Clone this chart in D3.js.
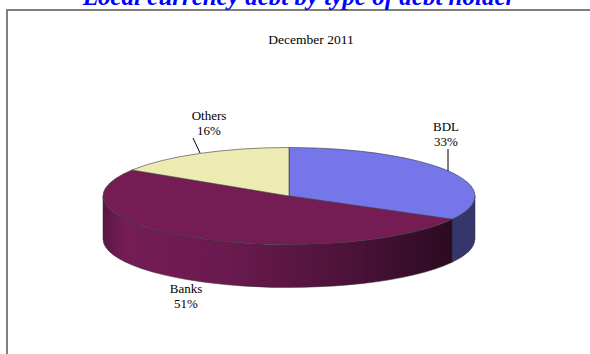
<!DOCTYPE html>
<html><head><meta charset="utf-8">
<script src="https://cdn.jsdelivr.net/npm/d3@7"></script>
<style>html,body{margin:0;padding:0;background:#fff;}svg{display:block;}</style>
</head><body>
<svg id="chart" width="590" height="354"></svg>
<script>
const categories = ["BDL", "Banks", "Others"];
const values = [33, 51, 16];
const topColors = ["#7476e9", "#761c55", "#eeebb2"];
const sideColors = ["#36366c", "url(#banksSide)", "#bdbb8a"];
const titleText = "Local currency debt by type of debt holder";
const subtitleText = "December 2011";

const svg = d3.select("#chart");
const defs = svg.append("defs");

const cx = 289, cy = 196, rx = 186, ry = 48.5, depth = 43;

const g1 = defs.append("linearGradient").attr("id", "banksSide")
  .attr("gradientUnits", "userSpaceOnUse").attr("x1", cx - rx).attr("x2", cx + rx * 0.9).attr("y1", 0).attr("y2", 0);
[[0, "#5a1543"], [0.06, "#741d55"], [0.35, "#6a1a4f"], [0.7, "#4c1239"], [1, "#2a0a20"]]
  .forEach(([o, c]) => g1.append("stop").attr("offset", o).attr("stop-color", c));

// frame
svg.append("rect").attr("x", 7).attr("y", 10).attr("width", 700).attr("height", 500)
  .attr("fill", "none").attr("stroke", "#7f7f7f").attr("stroke-width", 2);

svg.append("text").attr("x", 299).attr("y", 5).attr("text-anchor", "middle")
  .attr("font-family", "Liberation Serif").attr("font-size", 25).attr("font-weight", "bold")
  .attr("font-style", "italic").attr("fill", "#0000ff").text(titleText);

svg.append("text").attr("x", 311).attr("y", 44).attr("text-anchor", "middle")
  .attr("font-family", "Liberation Serif").attr("font-size", 13.5).attr("fill", "#000").text(subtitleText);

const pie = d3.pie().sort(null).value(d => d)
  .startAngle(0).endAngle(2 * Math.PI);
const arcs = pie(values);

const px = a => cx + rx * Math.sin(a);
const py = a => cy - ry * Math.cos(a);

// sides (front-facing portion between PI/2 and 3PI/2)
const sideG = svg.append("g");
arcs.forEach((d, i) => {
  const a0 = Math.max(d.startAngle, Math.PI / 2);
  const a1 = Math.min(d.endAngle, 3 * Math.PI / 2);
  if (a1 <= a0) return;
  const large = (a1 - a0) > Math.PI ? 1 : 0;
  const s = `M${px(a0)},${py(a0)} A${rx},${ry} 0 ${large} 1 ${px(a1)},${py(a1)} L${px(a1)},${py(a1) + depth} A${rx},${ry} 0 ${large} 0 ${px(a0)},${py(a0) + depth} Z`;
  sideG.append("path").attr("d", s).attr("fill", sideColors[i])
    .attr("stroke", "#2a2a2a").attr("stroke-width", 0.5);
});

// top faces
const topG = svg.append("g");
arcs.forEach((d, i) => {
  const a0 = d.startAngle, a1 = d.endAngle;
  const large = (a1 - a0) > Math.PI ? 1 : 0;
  const s = `M${cx},${cy} L${px(a0)},${py(a0)} A${rx},${ry} 0 ${large} 1 ${px(a1)},${py(a1)} Z`;
  topG.append("path").attr("d", s).attr("fill", topColors[i])
    .attr("stroke", "#3a3a3a").attr("stroke-width", 0.6).attr("stroke-linejoin", "round");
});

// labels
const labelPos = [
  { x: 446, y: 131, line: [448, 149, 448, 171] },
  { x: 186, y: 293, line: null },
  { x: 209, y: 120, line: [193, 138, 200, 153] }
];
const lg = svg.append("g").attr("font-family", "Liberation Serif").attr("font-size", 13)
  .attr("text-anchor", "middle").attr("fill", "#000");
arcs.forEach((d, i) => {
  const L = labelPos[i];
  const pct = Math.round(d.value / d3.sum(values) * 100) + "%";
  lg.append("text").attr("x", L.x).attr("y", L.y).text(categories[i]);
  lg.append("text").attr("x", L.x).attr("y", L.y + 15).text(pct);
  if (L.line) svg.append("line").attr("x1", L.line[0]).attr("y1", L.line[1])
    .attr("x2", L.line[2]).attr("y2", L.line[3]).attr("stroke", "#000").attr("stroke-width", 1);
});
</script>
</body></html>
